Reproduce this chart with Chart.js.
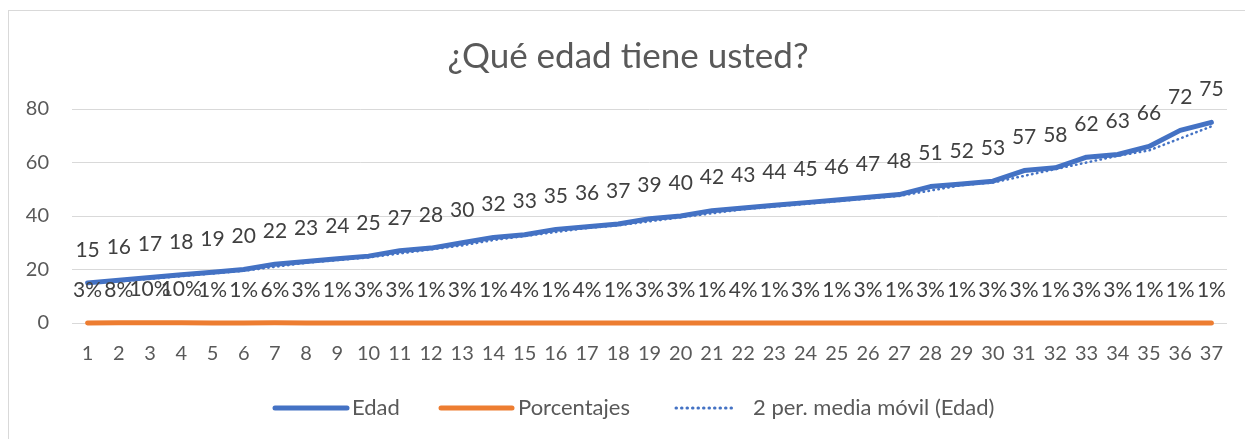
<!DOCTYPE html>
<html><head><meta charset="utf-8">
<script src="https://cdn.jsdelivr.net/npm/chart.js@4.4.0/dist/chart.umd.min.js"></script>
<style>html,body{margin:0;padding:0;background:#fff;} #c{display:block;}</style>
</head><body>
<canvas id="c" width="1245" height="439"></canvas>
<script>
const categorias = ['1','2','3','4','5','6','7','8','9','10','11','12','13','14','15','16','17','18','19','20','21','22','23','24','25','26','27','28','29','30','31','32','33','34','35','36','37'];
const edad = [15,16,17,18,19,20,22,23,24,25,27,28,30,32,33,35,36,37,39,40,42,43,44,45,46,47,48,51,52,53,57,58,62,63,66,72,75];
const porcentajes = [0.03,0.08,0.10,0.10,0.01,0.01,0.06,0.03,0.01,0.03,0.03,0.01,0.03,0.01,0.04,0.01,0.04,0.01,0.03,0.03,0.01,0.04,0.01,0.03,0.01,0.03,0.01,0.03,0.01,0.03,0.03,0.01,0.03,0.03,0.01,0.01,0.01];
const mediaMovil = [null,15.5,16.5,17.5,18.5,19.5,21,22.5,23.5,24.5,26,27.5,29,31,32.5,34,35.5,36.5,38,39.5,41,42.5,43.5,44.5,45.5,46.5,47.5,49.5,51.5,52.5,55,57.5,60,62.5,64.5,69,73.5];
const yTicks = [0,20,40,60,80];
const titulo = '¿Qué edad tiene usted?';
const nombresSeries = ['Edad','Porcentajes','2 per. media móvil (Edad)'];

const FONT = 'Lato, "Open Sans", sans-serif';
const AZUL = '#4472C4', NARANJA = '#ED7D31';

const deco = {
  id: 'deco',
  beforeDraw(chart) {
    const ctx = chart.ctx;
    ctx.save();
    ctx.fillStyle = '#fff';
    ctx.fillRect(0, 0, chart.width, chart.height);
    ctx.strokeStyle = '#d9d9d9';
    ctx.lineWidth = 1;
    ctx.strokeRect(8.5, 10.5, 1400, 600);
    ctx.restore();
  },
  afterDatasetsDraw(chart) {
    const ctx = chart.ctx;
    ctx.save();
    ctx.font = '21px ' + FONT;
    ctx.fillStyle = '#404040';
    ctx.textAlign = 'center';
    ctx.textBaseline = 'middle';
    const mE = chart.getDatasetMeta(1);
    mE.data.forEach((p, i) => ctx.fillText(String(edad[i]), p.x, p.y - 33));
    const mP = chart.getDatasetMeta(2);
    mP.data.forEach((p, i) => ctx.fillText(Math.round(porcentajes[i] * 100) + '%', p.x, p.y - 33));
    // title
    ctx.fillStyle = '#595959';
    ctx.font = '35px ' + FONT;
    ctx.fillText(titulo, 628, 57);
    // legend
    const ly = 408;
    ctx.font = '22px ' + FONT;
    ctx.textAlign = 'left';
    const items = [
      {x1: 275, x2: 347, tx: 352, color: AZUL, w: 5, dash: []},
      {x1: 441, x2: 512, tx: 518, color: NARANJA, w: 5, dash: []},
      {x1: 676, x2: 736, tx: 753, color: AZUL, w: 3, dash: [0.5, 5]}
    ];
    items.forEach((it, k) => {
      ctx.beginPath();
      ctx.strokeStyle = it.color;
      ctx.lineWidth = it.w;
      ctx.lineCap = 'round';
      ctx.setLineDash(it.dash);
      ctx.moveTo(it.x1, ly);
      ctx.lineTo(it.x2, ly);
      ctx.stroke();
      ctx.setLineDash([]);
      ctx.fillStyle = '#595959';
      ctx.fillText(nombresSeries[k], it.tx, ly);
    });
    ctx.restore();
  }
};

new Chart(document.getElementById('c').getContext('2d'), {
  type: 'line',
  data: {
    labels: categorias,
    datasets: [
      {label: nombresSeries[2], data: mediaMovil, borderColor: AZUL, borderWidth: 2.5, borderDash: [0.5, 4.5], borderCapStyle: 'round', pointRadius: 0, fill: false, tension: 0, clip: 10},
      {label: nombresSeries[0], data: edad, borderColor: AZUL, borderWidth: 5, borderCapStyle: 'round', borderJoinStyle: 'round', pointRadius: 0, fill: false, tension: 0, clip: 10},
      {label: nombresSeries[1], data: porcentajes, borderColor: NARANJA, borderWidth: 5, borderCapStyle: 'round', borderJoinStyle: 'round', pointRadius: 0, fill: false, tension: 0, clip: 10}
    ]
  },
  options: {
    responsive: false,
    animation: false,
    devicePixelRatio: 1,
    layout: {padding: {left: 0, right: 18, top: 109, bottom: 0}},
    plugins: {legend: {display: false}, title: {display: false}, tooltip: {enabled: false}},
    scales: {
      x: {
        offset: true,
        grid: {display: false, drawTicks: false},
        border: {display: false},
        ticks: {font: {family: FONT, size: 20}, color: '#595959', padding: 19, maxRotation: 0, autoSkip: false},
        afterFit(s) { s.height = 116; }
      },
      y: {
        min: 0, max: 80,
        afterBuildTicks(s) { s.ticks = yTicks.map(v => ({value: v})); },
        grid: {color: '#d9d9d9', lineWidth: 1, drawTicks: false},
        border: {display: false},
        ticks: {font: {family: FONT, size: 20}, color: '#595959', padding: 23},
        afterFit(s) { s.width = 72; }
      }
    }
  },
  plugins: [deco]
});
</script>
</body></html>
